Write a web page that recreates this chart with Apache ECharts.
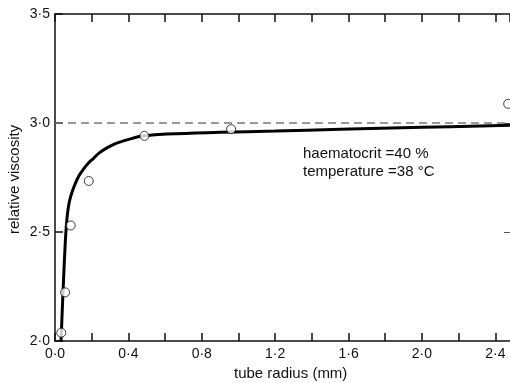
<!DOCTYPE html>
<html>
<head>
<meta charset="utf-8">
<script src="https://cdn.jsdelivr.net/npm/echarts@6/dist/echarts.min.js"></script>
<style>
html,body{margin:0;padding:0;background:#fff;}
#chart{width:510px;height:383px;}
</style>
</head>
<body>
<div id="chart"></div>
<script>
// Measured data points (tube radius mm, relative viscosity)
var pointX = [0.034, 0.055, 0.086, 0.184, 0.487, 0.96, 2.47];
var pointY = [2.038, 2.223, 2.53, 2.734, 2.941, 2.972, 3.088];
// Fitted curve
var curveX = [0.033, 0.04, 0.047, 0.053, 0.058, 0.065, 0.073, 0.082, 0.095, 0.109, 0.13, 0.155, 0.18, 0.209, 0.245, 0.29, 0.336, 0.427, 0.487, 0.609, 0.9, 1.2, 1.555, 2.0, 2.48];
var curveY = [2.0, 2.15, 2.29, 2.40, 2.48, 2.56, 2.615, 2.652, 2.688, 2.719, 2.757, 2.788, 2.814, 2.837, 2.865, 2.889, 2.908, 2.931, 2.941, 2.949, 2.957, 2.963, 2.971, 2.98, 2.99];
var refLine = 3.0;
var annotation = ['haematocrit =40 %', 'temperature =38 °C'];
var xTitle = 'tube radius (mm)';
var yTitle = 'relative viscosity';

function zip(a, b) { return a.map(function (v, i) { return [v, b[i]]; }); }
function fmt(v) { return v.toFixed(1).replace('.', '\u00b7'); }
var FONT = 'Liberation Sans';
var ink = '#111';
function ticks() { return {show: true, inside: true, length: 8, lineStyle: {color: ink, width: 1.5}}; }

var chart = echarts.init(document.getElementById('chart'), null, {renderer: 'canvas'});
chart.setOption({
  animation: false,
  backgroundColor: '#fff',
  grid: {left: 55, right: 0, top: 14, bottom: 42},
  xAxis: [{
    type: 'value', min: 0, max: 2.48, interval: 0.2, position: 'bottom',
    axisLine: {show: true, onZero: false, lineStyle: {color: ink, width: 1.5}},
    axisTick: ticks(),
    splitLine: {show: false},
    axisLabel: {
      margin: 6, color: ink, fontFamily: FONT, fontSize: 14, showMaxLabel: false,
      formatter: function (v) { return Math.round(v * 10) % 4 === 0 ? fmt(v) : ''; }
    }
  }, {
    type: 'value', min: 0, max: 2.48, interval: 0.2, position: 'top',
    axisLine: {show: true, onZero: false, lineStyle: {color: ink, width: 1.5}},
    axisTick: ticks(),
    axisLabel: {show: false}, splitLine: {show: false}
  }],
  yAxis: [{
    type: 'value', min: 2, max: 3.5, interval: 0.5, position: 'left',
    axisLine: {show: true, onZero: false, lineStyle: {color: ink, width: 1.5}},
    axisTick: ticks(),
    splitLine: {show: false},
    axisLabel: {margin: 5, color: ink, fontFamily: FONT, fontSize: 14, formatter: fmt}
  }, {
    type: 'value', min: 2, max: 3.5, interval: 0.5, position: 'right',
    axisLine: {show: false, onZero: false},
    axisTick: {show: true, inside: true, length: 6, lineStyle: {color: '#555', width: 1}},
    axisLabel: {show: false}, splitLine: {show: false}
  }],
  graphic: [
    {type: 'text', rotation: Math.PI / 2, x: 7, y: 234,
     style: {text: yTitle, fill: ink, font: '15px "Liberation Sans"'}},
    {type: 'text', left: 303, top: 145,
     style: {text: annotation.join('\n'), fill: ink, font: '15px "Liberation Sans"', lineHeight: 18}},
    {type: 'text', left: 234, top: 366,
     style: {text: xTitle, fill: ink, font: '15px "Liberation Sans"'}}
  ],
  series: [{
    type: 'line', data: zip(curveX, curveY), smooth: 0.4, showSymbol: false,
    lineStyle: {color: '#000', width: 3}, z: 3,
    markLine: {
      silent: true, symbol: 'none', label: {show: false},
      lineStyle: {color: '#777', type: [8, 5], width: 1.5},
      data: [{yAxis: refLine}]
    }
  }, {
    type: 'scatter', data: zip(pointX, pointY), symbol: 'circle', symbolSize: 9,
    itemStyle: {color: '#fff', borderColor: '#111', borderWidth: 1}, z: 5
  }]
});
</script>
</body>
</html>
